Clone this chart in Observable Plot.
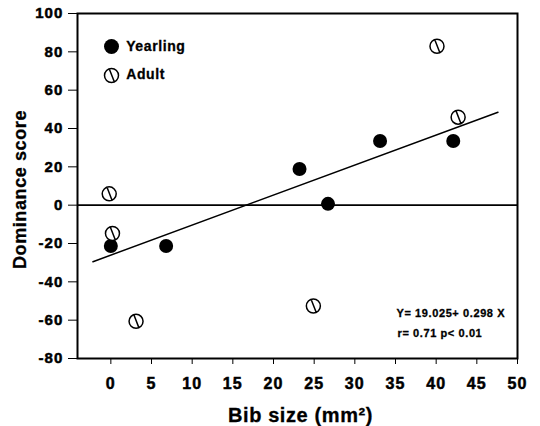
<!DOCTYPE html>
<html>
<head>
<meta charset="utf-8">
<script src="https://cdn.jsdelivr.net/npm/d3@7"></script>
<script src="https://cdn.jsdelivr.net/npm/@observablehq/plot@0.6"></script>
<style>
  html, body { margin: 0; padding: 0; background: #fff; }
</style>
</head>
<body>
<div id="chart"></div>
<script>
// Data
const yearlingX = [0, 6.8, 23.2, 26.7, 33.1, 42.1];
const yearlingY = [-21.3, -21.3, 18.9, 0.7, 33.5, 33.5];
const adultX = [-0.2, 0.2, 3.1, 24.9, 40.1, 42.7];
const adultY = [5.9, -14.8, -60.6, -52.6, 82.9, 45.9];
const fitX = [-2.2, 47.6];
const fitY = [-29.5, 48.5];
const seriesNames = ["Yearling", "Adult"];
const xTicks = [0, 5, 10, 15, 20, 25, 30, 35, 40, 45, 50];
const yTicks = [-80, -60, -40, -20, 0, 20, 40, 60, 80, 100];
const xTitle = "Bib size (mm\u00B2)";
const yTitle = "Dominance score";
const eqLine1 = "Y= 19.025+ 0.298 X";
const eqLine2 = "r= 0.71 p< 0.01";

const yearling = yearlingX.map((x, i) => ({x, y: yearlingY[i]}));
const adult = adultX.map((x, i) => ({x, y: adultY[i]}));
const fit = fitX.map((x, i) => ({x, y: fitY[i]}));

// Circle with a diagonal stroke (hatched open symbol)
const hatch = {
  draw(ctx, size) {
    const r = Math.sqrt(size / Math.PI);
    ctx.moveTo(r, 0);
    ctx.arc(0, 0, r, 0, 2 * Math.PI);
    ctx.moveTo(-0.3 * r, -0.9 * r);
    ctx.lineTo(0.4 * r, 0.9 * r);
  }
};

const chart = Plot.plot({
  width: 540,
  height: 426,
  marginLeft: 77,
  marginRight: 23,
  marginTop: 13,
  marginBottom: 68,
  x: {domain: [-4.1, 50]},
  y: {domain: [-80, 100]},
  style: {fontFamily: "'Liberation Sans', Arial, sans-serif", fontWeight: "bold", color: "black", background: "white"},
  marks: [
    Plot.ruleY([0], {strokeWidth: 1.6}),
    Plot.line(fit, {x: "x", y: "y", strokeWidth: 1.5}),
    Plot.frame({strokeWidth: 2}),
    Plot.axisY({ticks: yTicks, tickSize: 9, tickPadding: 5, fontSize: 15, fontWeight: "bold", label: null, tickFormat: d => String(d)}),
    Plot.axisX({ticks: xTicks, tickSize: 6, tickPadding: 13, fontSize: 16, fontWeight: "bold", label: null, tickFormat: d => String(d)}),
    Plot.dot(yearling, {x: "x", y: "y", r: 7, fill: "black", stroke: "none"}),
    Plot.dot(adult, {x: "x", y: "y", r: 7, symbol: hatch, fill: "white", stroke: "black", strokeWidth: 1.5}),
    // legend
    Plot.dot([seriesNames[0]], {frameAnchor: "top-left", dx: 34, dy: 33, r: 7.5, fill: "black", stroke: "none"}),
    Plot.dot([seriesNames[1]], {frameAnchor: "top-left", dx: 34, dy: 62, r: 7, symbol: hatch, fill: "white", stroke: "black", strokeWidth: 1.5}),
    Plot.text([seriesNames[0]], {frameAnchor: "top-left", textAnchor: "start", lineAnchor: "middle", dx: 48.7, dy: 33, fontSize: 14, fontWeight: "bold"}),
    Plot.text([seriesNames[1]], {frameAnchor: "top-left", textAnchor: "start", lineAnchor: "middle", dx: 48.7, dy: 61.5, fontSize: 14, fontWeight: "bold"}),
    // regression annotation
    Plot.text([eqLine1], {frameAnchor: "top-left", textAnchor: "start", lineAnchor: "middle", dx: 319, dy: 300, fontSize: 11, fontWeight: "bold"}),
    Plot.text([eqLine2], {frameAnchor: "top-left", textAnchor: "start", lineAnchor: "middle", dx: 320, dy: 320, fontSize: 11, fontWeight: "bold"}),
    // axis titles
    Plot.text([yTitle], {frameAnchor: "top-left", textAnchor: "middle", lineAnchor: "middle", rotate: -90, dx: -57.5, dy: 176, fontSize: 18, fontWeight: "bold"}),
    Plot.text([xTitle], {frameAnchor: "bottom", textAnchor: "middle", lineAnchor: "top", dx: 3, dy: 49, fontSize: 20, fontWeight: "bold"})
  ]
});

// Heavier, slightly spaced lettering like the scanned original
const svg = d3.select(chart);
svg.selectAll("text")
  .style("font-weight", "bold")
  .style("font-family", "'Liberation Sans', Arial, sans-serif")
  .style("letter-spacing", "0.6px")
  .style("stroke", "#000")
  .style("stroke-width", "0.3px");
svg.selectAll('g[aria-label="y-axis tick label"] text, g[aria-label="x-axis tick label"] text')
  .style("letter-spacing", "1.1px")
  .style("stroke-width", "0.5px");

document.getElementById("chart").appendChild(chart);
</script>
</body>
</html>
